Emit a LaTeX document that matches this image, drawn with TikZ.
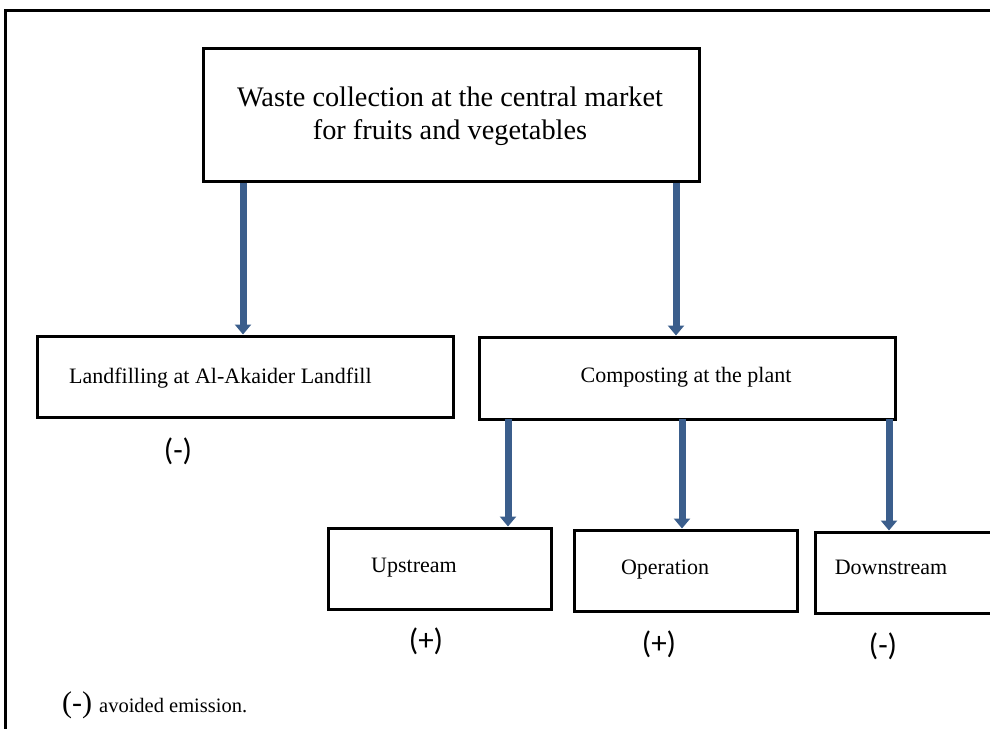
\documentclass[tikz,border=0pt]{standalone}
\usepackage{fontspec}
\setmainfont{Liberation Serif}
\newfontfamily\signfont{Carlito}
\usetikzlibrary{arrows.meta}
\definecolor{arrowblue}{RGB}{59,94,140}
\tikzset{
  box/.style={draw=black, line width=3pt, rectangle, inner sep=0pt},
  lbl/.style={inner sep=0pt, font=\fontsize{22}{26}\selectfont},
  sign/.style={inner sep=0pt, font=\signfont\fontsize{31}{35}\selectfont},
  flow/.style={draw=arrowblue, line width=7pt, -{Triangle[width=16pt,length=10pt]}, arrowblue}
}
\begin{document}
\begin{tikzpicture}[x=1pt,y=-1pt]
\useasboundingbox (0,0) rectangle (990,728);
\fill[white] (0,0) rectangle (990,728);
\draw[line width=3pt] (5,10) rectangle (1010,745);
% boxes
\node[box, minimum width=496pt, minimum height=133pt] (top) at (451,114.5) {};
\node[box, minimum width=416pt, minimum height=81pt] (land) at (245,376.5) {};
\node[box, minimum width=416pt, minimum height=82pt] (comp) at (687,378) {};
\node[box, minimum width=223pt, minimum height=81pt] (up) at (439.5,568.5) {};
\node[box, minimum width=223pt, minimum height=81pt] (op) at (685.5,570.5) {};
\node[box, minimum width=223pt, minimum height=81pt] (down) at (926.5,572.5) {};
% texts
\node[inner sep=0pt, align=center, font=\fontsize{28.3}{33}\selectfont] (toptext) at (450,116.5) {Waste collection at the central market\\for fruits and vegetables};
\node[lbl, anchor=base west] (landtext) at (69,383) {Landfilling at Al-Akaider Landfill};
\node[lbl, anchor=base] (comptext) at (686,382) {Composting at the plant};
\node[lbl, anchor=base] (uptext) at (414,572) {Upstream};
\node[lbl, anchor=base] (optext) at (665,574) {Operation};
\node[lbl, anchor=base] (downtext) at (891,574) {Downstream};
% signs
\node[sign] (s1) at (178,451) {(-)};
\node[sign] (s2) at (426,641) {(+)};
\node[sign] (s3) at (659,644) {(+)};
\node[sign] (s4) at (883,646) {(-)};
% legend
\node[inner sep=0pt, anchor=base west] (legend) at (62,712) {\fontsize{30}{34}\selectfont(-)\hspace{7pt}\fontsize{20.5}{24}\selectfont avoided emission.};
% arrows
\draw[flow] (top.south -| 243,0) -- (land.north -| 243,0);
\draw[flow] (top.south -| 676,0) -- (comp.north -| 676,0);
\draw[flow] ([yshift=2pt]comp.south -| 508,0) -- (up.north -| 508,0);
\draw[flow] ([yshift=2pt]comp.south -| 682,0) -- (op.north -| 682,0);
\draw[flow] ([yshift=2pt]comp.south -| 889,0) -- (down.north -| 889,0);
\end{tikzpicture}
\end{document}
